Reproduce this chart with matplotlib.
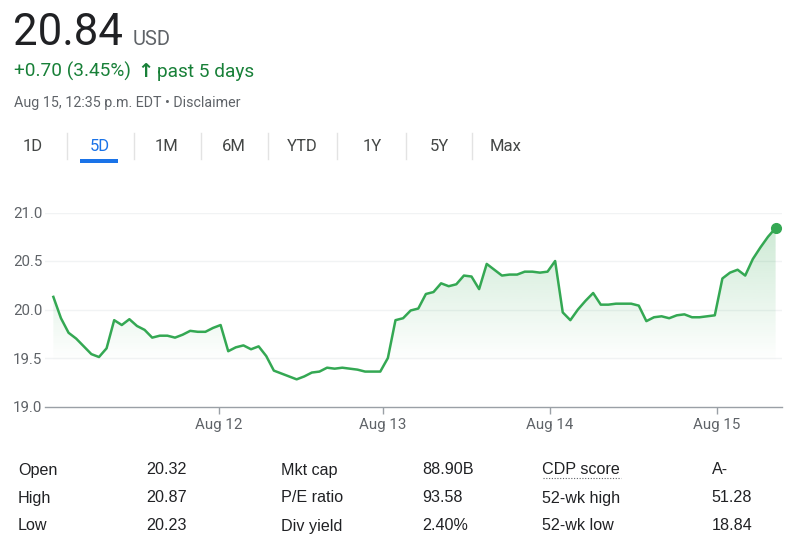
import numpy as np
import matplotlib
matplotlib.use('Agg')
import matplotlib.pyplot as plt
from matplotlib.lines import Line2D
from matplotlib.patches import Rectangle, Polygon

plt.rcParams['font.family'] = ['Roboto', 'DejaVu Sans']

W, H = 800, 539

# 5-day intraday prices
prices = [20.13, 19.91, 19.76, 19.70, 19.62, 19.54, 19.51, 19.60, 19.89, 19.84,
          19.90, 19.83, 19.79, 19.71, 19.73, 19.73, 19.71, 19.74, 19.78, 19.77,
          19.77, 19.81, 19.84, 19.57, 19.61, 19.63, 19.59, 19.62, 19.52, 19.37,
          19.34, 19.31, 19.28, 19.31, 19.35, 19.36, 19.40, 19.39, 19.40, 19.39,
          19.38, 19.36, 19.36, 19.36, 19.50, 19.89, 19.91, 19.99, 20.01, 20.16,
          20.18, 20.27, 20.24, 20.26, 20.35, 20.34, 20.21, 20.47, 20.41, 20.35,
          20.36, 20.36, 20.39, 20.39, 20.38, 20.39, 20.50, 19.97, 19.89, 20.00,
          20.09, 20.17, 20.05, 20.05, 20.06, 20.06, 20.06, 20.04, 19.88, 19.92,
          19.93, 19.91, 19.94, 19.95, 19.92, 19.92, 19.93, 19.94, 20.32, 20.38,
          20.41, 20.35, 20.52, 20.64, 20.75, 20.84]
day_labels = ['Aug 12', 'Aug 13', 'Aug 14', 'Aug 15']
day_starts = [21.8, 43.3, 65.3, 87.3]  # sample index where each session opens
y_ticks = [19.0, 19.5, 20.0, 20.5, 21.0]

price = '20.84'
currency = 'USD'
change = '+0.70 (3.45%)'
period = 'past 5 days'
stamp = 'Aug 15, 12:35 p.m. EDT \u2022 Disclaimer'

tabs = ['1D', '5D', '1M', '6M', 'YTD', '1Y', '5Y', 'Max']
active_tab = '5D'

stat_labels = [['Open', 'High', 'Low'],
               ['Mkt cap', 'P/E ratio', 'Div yield'],
               ['CDP score', '52-wk high', '52-wk low']]
stat_values = [['20.32', '20.87', '20.23'],
               ['88.90B', '93.58', '2.40%'],
               ['A-', '51.28', '18.84']]

GREEN = '#34a853'
TXT_GREEN = '#188038'
DARK = '#202124'
GREY = '#5f6368'


def fx(px):
    return px / W


def fy(py):
    return 1 - py / H


fig = plt.figure(figsize=(W / 100, H / 100), dpi=100)

# header
fig.text(fx(13), fy(45), price, fontsize=31.5, color=DARK, va='baseline')
fig.text(fx(133), fy(45), currency, fontsize=14.5, color=GREY, va='baseline')
fig.text(fx(14), fy(77), change, fontsize=13.7, color=TXT_GREEN, va='baseline')
fig.text(fx(137.5), fy(77), '\u2191', fontsize=14, color=TXT_GREEN, va='baseline',
         fontweight='bold', family='DejaVu Sans')
fig.text(fx(157), fy(77), period, fontsize=13.7, color=TXT_GREEN, va='baseline')
fig.text(fx(14), fy(107), stamp, fontsize=10.3, color=GREY, va='baseline')

# range tabs
tab_x = [33, 100, 167, 234, 302, 372, 439, 506]
for i, (t, cx) in enumerate(zip(tabs, tab_x)):
    active = t == active_tab
    fig.text(fx(cx), fy(146), t, fontsize=12, ha='center', va='center',
             color='#1a73e8' if active else '#444746')
    if active:
        fig.add_artist(Rectangle((fx(80), fy(163)), fx(38), 4 / H,
                                 facecolor='#1a73e8', edgecolor='none'))
    if i < len(tabs) - 1:
        sx = (cx + tab_x[i + 1]) / 2
        fig.add_artist(Line2D([fx(sx), fx(sx)], [fy(133), fy(159)],
                              color='#e3e3e3', lw=1))

# chart
ax = fig.add_axes([fx(45), fy(406.5), fx(781.7) - fx(45), fy(212.5) - fy(406.5)])
x = np.arange(len(prices))
x0, x1 = -1.1, len(prices) - 1 + 0.8
ax.set_xlim(x0, x1)
ax.set_ylim(19.0, 21.0)

for yv in y_ticks[1:]:
    ax.axhline(yv, color='#f1f3f4', lw=1, zorder=0)

ys = np.linspace(19.0, 21.0, 256)
alpha = np.clip((ys - 19.45) / (21.0 - 19.45), 0, 1) * 0.27
rgba = np.zeros((256, 1, 4))
rgba[:, 0, :3] = matplotlib.colors.to_rgb(GREEN)
rgba[:, 0, 3] = alpha
im = ax.imshow(rgba, extent=[x0, x1, 19.0, 21.0], origin='lower',
               aspect='auto', zorder=1)
verts = [(x[0], 19.0)] + list(zip(x, prices)) + [(x[-1], 19.0)]
clip = Polygon(verts, closed=True, facecolor='none', edgecolor='none')
ax.add_patch(clip)
im.set_clip_path(clip)

ax.plot(x, prices, color=GREEN, lw=1.8, zorder=3, solid_joinstyle='round')
ax.plot(x[-1], prices[-1], 'o', color=GREEN, ms=7, zorder=4, clip_on=False)

ax.set_yticks(y_ticks)
ax.set_yticklabels(['%.1f' % v for v in y_ticks])
ax.set_xticks(day_starts)
ax.set_xticklabels(day_labels)
ax.tick_params(axis='y', length=0, pad=2, labelsize=10.8, labelcolor=GREY)
ax.tick_params(axis='x', length=5, width=1, color='#9aa0a6', pad=3,
               labelsize=10.8, labelcolor=GREY)
for s in ['top', 'right', 'left']:
    ax.spines[s].set_visible(False)
ax.spines['bottom'].set_color('#9aa0a6')
ax.spines['bottom'].set_linewidth(1)
ax.set_facecolor('none')

# key stats table
col_label_x = [18, 281, 542.5]
col_value_x = [146.5, 422, 711.5]
row_y = [470, 498, 526]
for c in range(3):
    for r in range(3):
        fig.text(fx(col_label_x[c]), fy(row_y[r]), stat_labels[c][r],
                 fontsize=11.6, color=DARK, va='center', family='Liberation Sans')
        fig.text(fx(col_value_x[c]), fy(row_y[r]), stat_values[c][r],
                 fontsize=11.6, color=DARK, va='center', family='Liberation Sans')
fig.add_artist(Line2D([fx(542.5), fx(621)], [fy(478), fy(478)], color='#5f6368',
                      lw=0.8, linestyle=(0, (1, 1.5))))

fig.savefig('out.png', dpi=100)
